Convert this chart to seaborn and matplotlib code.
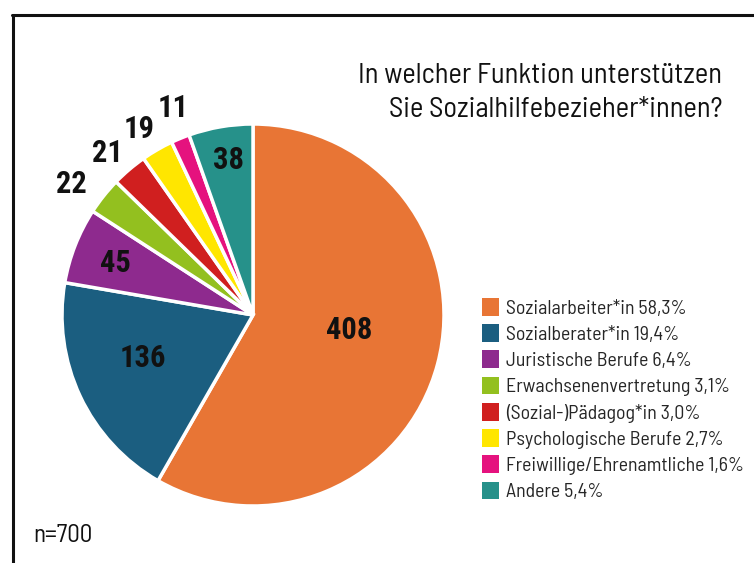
import matplotlib
matplotlib.use("Agg")
import numpy as np
import seaborn as sns
import matplotlib.pyplot as plt
from matplotlib.patches import Patch
from matplotlib.lines import Line2D

# data
categories = ['Sozialarbeiter*in', 'Sozialberater*in', 'Juristische Berufe',
              'Erwachsenenvertretung', '(Sozial-)Pädagog*in',
              'Psychologische Berufe', 'Freiwillige/Ehrenamtliche', 'Andere']
counts = [408, 136, 45, 22, 21, 19, 11, 38]
percents = ['58,3%', '19,4%', '6,4%', '3,1%', '3,0%', '2,7%', '1,6%', '5,4%']
colors = ['#E87535', '#1B5E80', '#8E2A8E', '#93C01F', '#D01F1F',
          '#FFE600', '#E5127E', '#26918A']
# count label placement: radius (fraction of pie radius) and angle nudge (deg)
label_r = [0.51, 0.62, 0.77, 1.17, 1.14, 1.14, 1.16, 0.82]
label_dang = [6, -4, 0.7, 2.8, 1.5, 1.4, -1.3, -0.6]

sns.set_theme(style="white")
plt.rcParams['font.family'] = ['Barlow Semi Condensed', 'DejaVu Sans']
palette = sns.color_palette(colors)

fig = plt.figure(figsize=(7.54, 5.63), dpi=100)
ax = fig.add_axes([62 / 754, 57 / 563, 382 / 754, 382 / 563])

wedges, _ = ax.pie(counts, colors=palette, startangle=90, counterclock=False,
                   wedgeprops=dict(edgecolor='white', linewidth=2.5))
ax.set_xlim(-1, 1)
ax.set_ylim(-1, 1)
ax.axis('off')

# count labels
total = sum(counts)
cum = np.cumsum([0] + counts)
for i, c in enumerate(counts):
    mid = (cum[i] + c / 2) / total
    ang = np.deg2rad(90 - mid * 360 + label_dang[i])
    r = label_r[i]
    ax.text(r * np.cos(ang), r * np.sin(ang), str(c), ha='center', va='center',
            fontsize=22, fontweight='bold', color='#111111',
            family=['Roboto Condensed', 'DejaVu Sans'])

# title
fig.text(722 / 754, 1 - 76 / 563, 'In welcher Funktion unterstützen',
         ha='right', va='center', fontsize=20.5, color='#111111')
fig.text(722 / 754, 1 - 110 / 563, 'Sie Sozialhilfebezieher*innen?',
         ha='right', va='center', fontsize=20.5, color='#111111')

# legend
handles = [Patch(facecolor=palette[i], edgecolor='none',
                 label=f'{categories[i]} {percents[i]}')
           for i in range(len(categories))]
fig.legend(handles=handles, loc='upper left', bbox_to_anchor=(474 / 754, 1 - 290 / 563),
           frameon=False, fontsize=14.3, handlelength=0.85, handleheight=1.0,
           handletextpad=0.35, labelspacing=0.33, borderaxespad=0)

fig.text(33 / 754, 1 - 536 / 563, 'n=700', ha='left', va='center',
         fontsize=18, color='#111111')

# frame lines (top and left)
fig.add_artist(Line2D([12.5 / 754, 12.5 / 754], [0, 1 - 14.5 / 563],
                      color='#111111', linewidth=2.2))
fig.add_artist(Line2D([11.5 / 754, 1], [1 - 14.5 / 563, 1 - 14.5 / 563],
                      color='#111111', linewidth=2.2))

fig.savefig('out.png', dpi=100)
